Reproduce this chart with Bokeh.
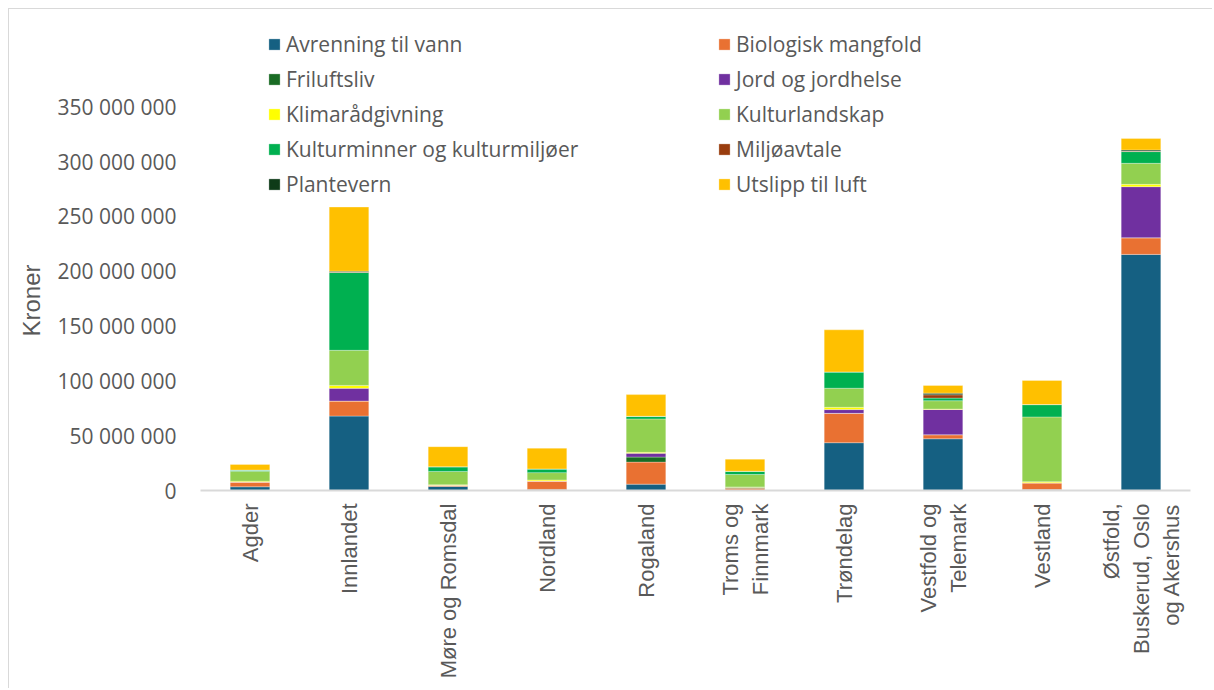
import math
from bokeh.plotting import figure
from bokeh.models import (ColumnDataSource, Range1d, FixedTicker, Legend,
                          LegendItem, InlineStyleSheet, Title)
from bokeh.embed import file_html
from bokeh.resources import INLINE

# ---------------- data (values in millions of kroner) ----------------
regions = ["Agder", "Innlandet", "Møre og Romsdal", "Nordland", "Rogaland",
           "Troms og\nFinnmark", "Trøndelag", "Vestfold og\nTelemark",
           "Vestland", "Østfold,\nBuskerud, Oslo\nog Akershus"]

series_names = ["Avrenning til vann", "Biologisk mangfold", "Friluftsliv",
                "Jord og jordhelse", "Klimarådgivning", "Kulturlandskap",
                "Kulturminner og kulturmiljøer", "Miljøavtale", "Plantevern",
                "Utslipp til luft"]

avrenning      = [3.4, 67.9, 3.7, 1.0, 5.8, 0.5, 43.6, 47.2, 0.9, 215.4]
biologisk      = [4.3, 13.7, 1.2, 7.6, 20.1, 1.5, 26.8, 3.7, 6.1, 15.2]
friluftsliv    = [0.0, 0.0, 0.0, 0.0, 4.6, 1.0, 0.0, 0.0, 0.0, 0.0]
jord           = [0.0, 11.6, 0.0, 0.0, 3.4, 0.0, 3.4, 23.1, 0.0, 46.6]
klima          = [0.8, 2.7, 0.3, 1.0, 0.9, 0.3, 2.1, 0.3, 1.0, 2.1]
kulturlandskap = [9.1, 32.0, 12.2, 6.7, 30.5, 11.3, 17.4, 7.6, 59.1, 19.2]
kulturminner   = [1.0, 71.0, 4.3, 3.4, 2.4, 3.0, 14.9, 2.4, 11.3, 10.7]
miljoavtale    = [0.0, 0.5, 0.0, 0.0, 0.0, 0.0, 0.0, 3.0, 0.0, 0.5]
plantevern     = [0.0, 0.7, 0.0, 0.0, 0.0, 0.0, 0.0, 1.5, 0.0, 1.0]
utslipp        = [5.2, 58.5, 18.3, 18.9, 19.8, 11.0, 38.4, 7.0, 22.0, 10.4]

series_values = [avrenning, biologisk, friluftsliv, jord, klima,
                 kulturlandskap, kulturminner, miljoavtale, plantevern, utslipp]

colors = ["#156082", "#E97132", "#196B24", "#7030A0", "#FFFF00",
          "#92D050", "#00B050", "#993D0E", "#0E3B18", "#FFC000"]

tick_values = [0, 50_000_000, 100_000_000, 150_000_000, 200_000_000,
               250_000_000, 300_000_000, 350_000_000]
tick_labels = ["0", "50 000 000", "100 000 000", "150 000 000", "200 000 000",
               "250 000 000", "300 000 000", "350 000 000"]

# ---------------- build ----------------
keys = [f"s{i}" for i in range(len(series_names))]
data = {"region": regions}
for k, vals in zip(keys, series_values):
    data[k] = [v * 1e6 for v in vals]
source = ColumnDataSource(data)

TXT = "#595959"

p = figure(x_range=regions, y_range=Range1d(0, 428_800_000),
           width=1204, height=680, output_backend="svg", toolbar_location=None,
           min_border_left=190, min_border_right=23, min_border_top=11,
           min_border_bottom=199)
p.stylesheets.append(InlineStyleSheet(
    css=":host { margin-left: 8px; margin-top: 8px; "
        "border-top: 1px solid #d9d9d9; border-left: 1px solid #d9d9d9; }"))

renderers = p.vbar_stack(keys, x="region", width=0.4, fill_color=colors,
                         line_color="white", line_width=0.6, line_alpha=0.5,
                         source=source)

p.outline_line_color = None
p.xgrid.grid_line_color = None
p.ygrid.grid_line_color = None
p.background_fill_color = "white"
p.border_fill_color = "white"

# y axis
p.yaxis.ticker = FixedTicker(ticks=tick_values)
p.yaxis.major_label_overrides = dict(zip(tick_values, tick_labels))
p.yaxis.axis_line_color = None
p.yaxis.major_tick_line_color = None
p.yaxis.minor_tick_line_color = None
p.yaxis.major_tick_out = 0
p.yaxis.major_label_standoff = 24
p.yaxis.major_label_text_font = "Open Sans"
p.yaxis.major_label_text_font_size = "21px"
p.yaxis.major_label_text_color = TXT

# y axis title (placed beside the tick labels, centred on the 0-350M span)
ytitle = Title(text="Kroner", align="left", offset=154, vertical_align="top",
               standoff=16, text_font="Liberation Sans", text_font_size="24px",
               text_font_style="normal", text_color=TXT)
p.add_layout(ytitle, "left")

# x axis
p.xaxis.axis_line_color = "#D9D9D9"
p.xaxis.axis_line_width = 2
p.xaxis.major_tick_line_color = None
p.xaxis.minor_tick_line_color = None
p.xaxis.major_tick_out = 0
p.xaxis.major_label_orientation = math.pi / 2
p.xaxis.major_label_standoff = 13
p.xaxis.major_label_text_font = "Liberation Sans"
p.xaxis.major_label_text_font_size = "22px"
p.xaxis.major_label_text_color = TXT

# legends (two columns)
def make_legend(idx, loc):
    items = [LegendItem(label=series_names[i], renderers=[renderers[i]]) for i in idx]
    lg = Legend(items=items, location=loc, orientation="vertical")
    lg.background_fill_alpha = 0
    lg.border_line_color = None
    lg.margin = 0
    lg.padding = 0
    lg.spacing = 0
    lg.glyph_width = 14
    lg.glyph_height = 14
    lg.label_height = 35
    lg.label_standoff = 5
    lg.label_text_font = "Open Sans"
    lg.label_text_font_size = "21px"
    lg.label_text_color = TXT
    return lg

p.add_layout(make_legend([0, 2, 4, 6, 8], (67, 289)), "center")
p.add_layout(make_legend([1, 3, 5, 7, 9], (517, 289)), "center")

open("out.html", "w").write(file_html(p, INLINE))
